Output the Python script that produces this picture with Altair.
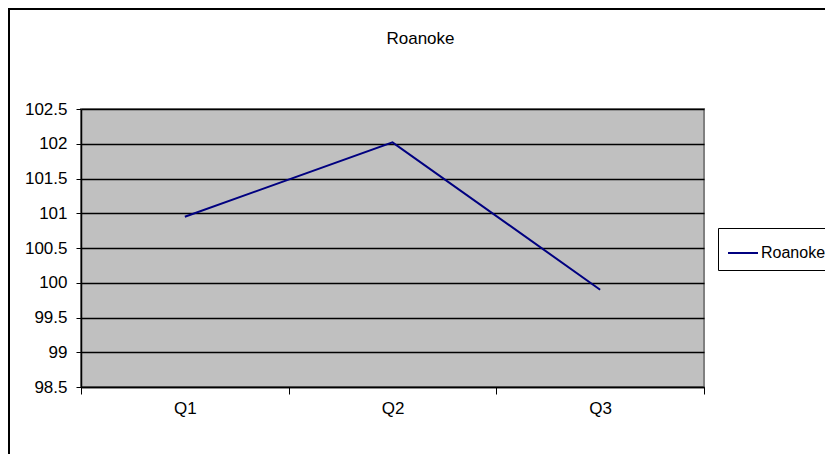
import altair as alt
import pandas as pd

quarters = ["Q1", "Q2", "Q3"]
values = [100.95, 102.02, 99.90]
series = ["Roanoke", "Roanoke", "Roanoke"]
y_ticks = [98.5, 99, 99.5, 100, 100.5, 101, 101.5, 102, 102.5]

df = pd.DataFrame({"quarter": quarters, "value": values, "series": series})

FONT = "Liberation Sans"
FS = 17

line = alt.Chart(df).mark_line(strokeWidth=2).encode(
    x=alt.X(
        "quarter:N",
        bandPosition=0.5,
        sort=quarters,
        scale=alt.Scale(type="band", paddingInner=0, paddingOuter=0),
        axis=alt.Axis(
            title=None, labelAngle=0, tickBand="extent", grid=False,
            domainColor="black", domainWidth=1.5, tickColor="black", tickSize=7,
            tickWidth=1, labelPadding=6, labelFontSize=FS, labelFont=FONT, labelColor="black",
        ),
    ),
    y=alt.Y(
        "value:Q",
        scale=alt.Scale(domain=[98.5, 102.5], nice=False, zero=False),
        axis=alt.Axis(
            title=None, values=y_ticks, format="~g", grid=True, gridColor="black",
            gridWidth=1.5, gridOpacity=1, domainColor="black", domainWidth=1.5,
            tickColor="black", tickSize=5, tickWidth=1, labelPadding=9,
            labelFontSize=FS, labelFont=FONT, labelColor="black",
        ),
    ),
    color=alt.Color(
        "series:N",
        scale=alt.Scale(range=["#000080"]),
        legend=alt.Legend(
            title=None, orient="none", legendX=637, legendY=119,
            symbolType="stroke", symbolSize=900, symbolStrokeWidth=2,
            symbolStrokeColor="#000080",
            strokeColor="black", fillColor="white", padding=9,
            labelFontSize=16, labelFont=FONT, labelColor="black", labelOffset=2,
        ),
    ),
)

frame_df = pd.DataFrame({"k": [0]})
frame = alt.Chart(frame_df).mark_rect(filled=False, stroke="black", strokeWidth=2).encode(
    x=alt.value(-72), y=alt.value(-100), x2=alt.value(900), y2=alt.value(600)
)

chart = alt.layer(frame, line).properties(
    width=623,
    height=278,
    padding={"left": 73, "top": 101, "right": 121, "bottom": 67},
    autosize=alt.AutoSizeParams(type="none"),
    title=alt.TitleParams(
        text="Roanoke", anchor="middle", dx=28, offset=-40, fontSize=FS,
        font=FONT, fontWeight="normal", color="black",
    ),
).configure(
    background="white",
    view=alt.ViewConfig(fill="#C0C0C0", stroke="#808080", strokeWidth=2),
)

chart.save("out.html", embed_options={"renderer": "svg", "actions": False})
